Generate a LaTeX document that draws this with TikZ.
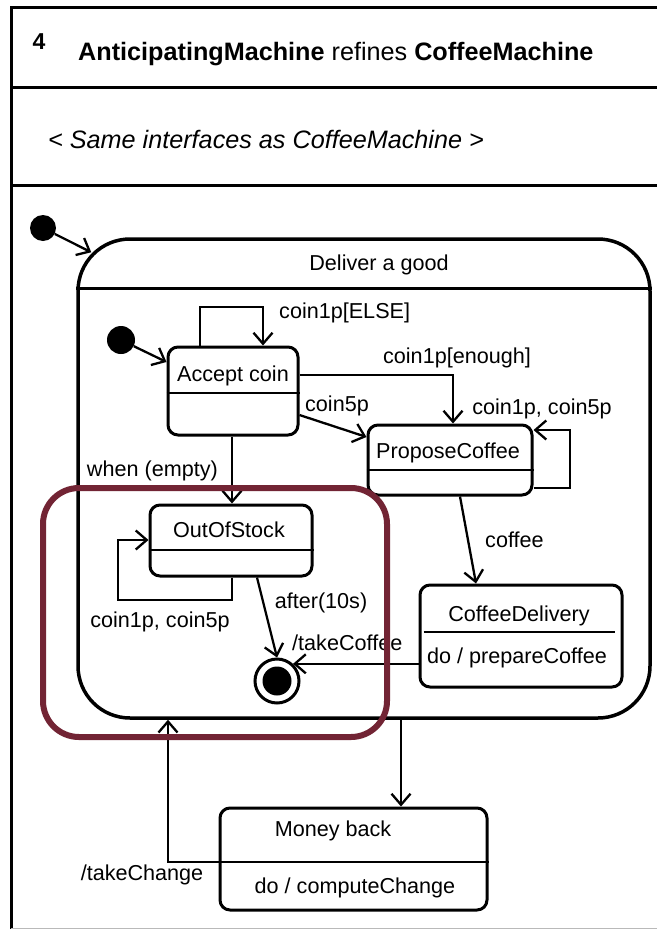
\documentclass[tikz,border=0pt]{standalone}
\usepackage{fontspec}
\setmainfont{Liberation Sans}
\usetikzlibrary{arrows.meta,calc}
\definecolor{hilite}{RGB}{114,36,52}
\begin{document}
\begin{tikzpicture}[x=1pt,y=-1pt,
  lbl/.style={font=\fontsize{21.6}{25}\selectfont, inner sep=0pt, yshift=-2pt},
  headtxt/.style={font=\fontsize{25.2}{30}\selectfont, inner sep=0pt, yshift=-2pt},
  statebox/.style={draw, line width=3pt, rounded corners=10pt, inner sep=0pt},
  divider/.style={line width=2.2pt},
  trans/.style={line width=2.3pt, -{Straight Barb[length=11pt,width=19pt]}},
  initdot/.style={circle, fill=black, inner sep=0pt}
]
\useasboundingbox (0,0) rectangle (657,929);

% diagram frame and header compartments
\draw[line width=3pt] (657,7) -- (11,7) -- (11,929);
\draw[line width=3pt] (11,87) -- (657,87);
\draw[line width=3pt] (11,185) -- (657,185);
\draw[gray!55, line width=1.2pt] (11,928.4) -- (657,928.4);

\node[headtxt, font=\fontsize{23}{26}\selectfont\bfseries] (num) at (39,40) {4};
\node[headtxt, anchor=west] (title) at (78,52)
  {\textbf{AnticipatingMachine} refines \textbf{CoffeeMachine}};
\node[headtxt, anchor=west] (iface) at (48,137)
  {\textit{< Same interfaces as CoffeeMachine >}};

% composite state
\node[draw, line width=3.5pt, rounded corners=52pt, minimum width=572pt,
      minimum height=479pt, inner sep=0pt] (dg) at (364,478.5) {};
\draw[line width=3pt] (dg.west |- 0,288) -- (dg.east |- 0,288);
\node[lbl] (dg-name) at (379,263) {Deliver a good};

% initial states
\node[initdot, minimum size=26pt] (i0) at (43,228) {};
\node[initdot, minimum size=28pt] (i1) at (121,340) {};

% simple states
\node[statebox, minimum width=130pt, minimum height=88pt] (ac) at (233,391) {};
\draw[divider] (ac.west |- 0,393) -- (ac.east |- 0,393);
\node[lbl] (ac-name) at (233,374) {Accept coin};

\node[statebox, minimum width=164pt, minimum height=70pt] (pc) at (450,460) {};
\draw[divider] (pc.west |- 0,470) -- (pc.east |- 0,470);
\node[lbl] (pc-name) at (448,451) {ProposeCoffee};

\node[statebox, minimum width=202pt, minimum height=102pt] (cd) at (521,636) {};
\draw[divider] ($(cd.west |- 0,632)+(5,0)$) -- ($(cd.east |- 0,632)+(-9,0)$);
\node[lbl] (cd-name) at (519,614) {CoffeeDelivery};
\node[lbl] (cd-do) at (517,656) {do / prepareCoffee};

\node[statebox, minimum width=162pt, minimum height=71pt] (oos) at (231,540.5) {};
\draw[divider] (oos.west |- 0,550) -- (oos.east |- 0,550);
\node[lbl] (oos-name) at (229,528) {OutOfStock};

\node[statebox, minimum width=267pt, minimum height=102pt] (mb) at (353.5,859) {};
\draw[divider] (mb.west |- 0,862) -- (mb.east |- 0,862);
\node[lbl] (mb-name) at (333,829) {Money back};
\node[lbl] (mb-do) at (355,886) {do / computeChange};

% final state
\node[circle, draw, line width=3pt, minimum size=44pt, inner sep=0pt] (fin) at (277,681) {};
\node[circle, fill=black, minimum size=29pt, inner sep=0pt] (fin-core) at (fin) {};

% transitions
\draw[trans] (i0) -- ($(dg.north west)+(15,15)$);
\draw[trans] (i1) -- (ac.west |- 0,362);

\draw[trans] (ac.north -| 200,0) |- (263,307) -- (ac.north -| 263,0);
\node[lbl, anchor=west] (l-else) at (279,311) {coin1p[ELSE]};

\draw[trans] (ac.east |- 0,375) -| (pc.north -| 453,0);
\node[lbl] (l-enough) at (457,356) {coin1p[enough]};

\draw[trans] (ac.east |- 0,415) -- (pc.west |- 0,437);
\node[lbl] (l-c5) at (337,404) {coin5p};

\draw[trans] (pc.east |- 0,488) -| (570,430) -- (pc.east |- 0,430);
\node[lbl] (l-pcloop) at (542,407) {coin1p, coin5p};

\draw[trans] (pc.south -| 460,0) -- (cd.north -| 476,0);
\node[lbl, anchor=west] (l-coffee) at (485,538) {coffee};

\draw[trans] (cd.west |- fin.47) -- (fin.47);
\node[lbl, anchor=west] (l-tc) at (292,641) {/takeCoffee};

\draw[trans] (ac.south -| 232,0) -- (oos.north -| 232,0);
\node[lbl, anchor=east] (l-when) at (218,469) {when (empty)};

\draw[trans] (oos.south -| 232,0) |- (118,600) |- (oos.west |- 0,540);
\node[lbl] (l-ooloop) at (160,620) {coin1p, coin5p};

\draw[trans] (oos.south -| 257,0) -- (fin.north);
\node[lbl] (l-after) at (321,601) {after(10s)};

\draw[trans] (dg.south -| 401,0) -- (mb.north -| 401,0);
\draw[trans] (mb.west |- 0,862) -| (dg.south -| 168,0);
\node[lbl] (l-tch) at (142,873) {/takeChange};

% highlighted region
\node[draw=hilite, line width=6pt, rounded corners=36pt, minimum width=344pt,
      minimum height=249pt, inner sep=0pt] (focus) at (215,612.5) {};
\end{tikzpicture}
\end{document}
